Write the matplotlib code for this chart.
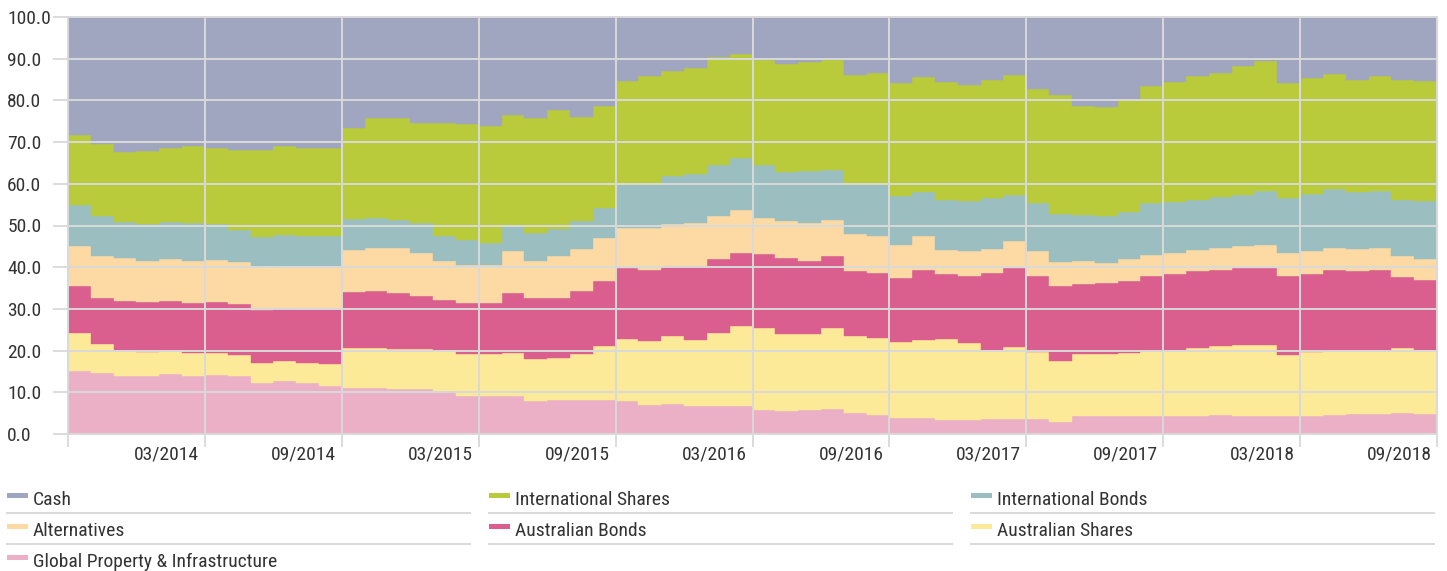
import numpy as np
import matplotlib
matplotlib.use("Agg")
import matplotlib.pyplot as plt
from matplotlib.patches import Rectangle

plt.rcParams['font.family'] = ['Roboto Condensed', 'Archivo Narrow', 'PT Sans Narrow',
                               'IBM Plex Sans Condensed', 'Liberation Sans Narrow', 'DejaVu Sans']

# monthly allocation (%), Oct 2013 .. Sep 2018, stacked bottom -> top
global_property = [15.0, 14.7, 13.8, 14.0, 14.4, 13.9, 14.2, 13.8, 12.2, 12.8, 12.3, 11.6,
                   11.0, 11.0, 10.8, 10.7, 10.2, 9.0, 9.0, 9.0, 7.8, 8.2, 8.1, 8.1,
                   7.8, 7.0, 7.2, 6.6, 6.8, 6.8, 5.8, 5.6, 5.8, 6.0, 5.0, 4.6,
                   3.8, 3.8, 3.4, 3.4, 3.6, 3.6, 3.6, 2.8, 4.2, 4.2, 4.3, 4.3,
                   4.4, 4.4, 4.6, 4.4, 4.4, 4.2, 4.4, 4.6, 4.8, 4.8, 5.0, 4.8]
aus_shares = [9.2, 6.9, 6.2, 5.6, 5.4, 5.5, 5.2, 5.2, 4.8, 4.6, 4.8, 5.1,
              9.6, 9.6, 9.7, 9.8, 10.0, 10.2, 10.1, 10.5, 10.2, 10.0, 11.1, 13.1,
              15.1, 15.4, 16.4, 16.0, 17.4, 19.0, 19.6, 18.4, 18.2, 19.4, 18.6, 18.4,
              18.2, 18.8, 19.4, 18.4, 16.6, 17.2, 16.0, 14.8, 15.0, 15.0, 15.1, 15.7,
              15.8, 16.2, 16.4, 17.0, 17.0, 14.8, 15.2, 15.4, 15.2, 15.2, 15.6, 15.4]
aus_bonds = [11.2, 11.1, 12.0, 12.0, 12.1, 12.0, 12.2, 12.2, 12.8, 12.9, 12.9, 13.3,
             13.5, 13.7, 13.4, 12.5, 12.0, 12.2, 12.2, 14.2, 14.6, 14.5, 15.0, 15.4,
             16.8, 17.0, 16.6, 17.6, 17.8, 17.6, 17.8, 18.2, 17.6, 17.2, 15.6, 15.7,
             15.4, 16.8, 15.6, 16.2, 18.4, 19.0, 18.4, 18.0, 16.8, 17.0, 17.4, 18.0,
             18.2, 18.4, 18.4, 18.4, 18.4, 18.8, 18.8, 19.4, 19.0, 19.4, 17.0, 16.8]
alternatives = [9.7, 9.9, 10.1, 10.0, 10.1, 10.0, 10.2, 10.1, 10.2, 10.0, 10.2, 10.2,
                10.1, 10.3, 10.6, 10.4, 9.2, 9.2, 9.3, 10.1, 9.0, 9.9, 10.2, 10.3,
                9.7, 10.0, 10.2, 10.4, 10.2, 10.2, 8.6, 8.8, 9.0, 8.6, 8.8, 8.9,
                8.0, 8.0, 5.8, 5.8, 5.8, 6.4, 6.0, 5.6, 5.4, 4.9, 5.1, 5.0,
                5.0, 5.2, 5.2, 5.4, 5.6, 5.6, 5.4, 5.2, 5.4, 5.2, 5.0, 5.0]
intl_bonds = [9.7, 9.6, 8.8, 8.8, 8.8, 9.2, 8.6, 7.7, 7.2, 7.5, 7.3, 7.3,
              7.4, 7.2, 6.7, 7.2, 6.1, 6.0, 5.2, 6.0, 6.6, 6.5, 6.6, 7.3,
              10.4, 10.4, 11.4, 11.8, 12.4, 12.6, 12.8, 11.8, 12.4, 12.2, 11.8, 12.0,
              11.6, 10.6, 11.8, 12.0, 12.2, 11.2, 11.4, 11.6, 11.2, 11.1, 11.3, 12.4,
              12.2, 12.0, 12.2, 12.2, 12.8, 13.2, 13.8, 14.2, 13.6, 13.6, 13.6, 13.8]
intl_shares = [16.8, 17.4, 16.7, 17.5, 17.8, 18.4, 18.2, 19.0, 20.9, 21.2, 21.1, 21.1,
               21.8, 24.0, 24.6, 24.1, 27.2, 27.7, 28.1, 26.8, 27.6, 28.6, 25.0, 24.4,
               24.8, 26.0, 25.2, 25.4, 25.8, 25.0, 25.2, 26.0, 26.2, 26.2, 26.4, 27.0,
               27.2, 27.6, 28.4, 27.8, 28.2, 28.6, 27.4, 28.4, 26.1, 26.2, 27.0, 28.0,
               28.8, 29.6, 29.8, 30.8, 31.2, 27.6, 27.8, 27.6, 27.0, 27.6, 28.8, 28.8]
cash = [28.4, 30.4, 32.4, 32.1, 31.4, 31.0, 31.4, 32.0, 31.9, 31.0, 31.4, 31.4,
        26.6, 24.2, 24.2, 25.3, 25.3, 25.7, 26.1, 23.4, 24.2, 22.3, 24.0, 21.4,
        15.4, 14.2, 13.0, 12.2, 9.6, 8.8, 10.2, 11.2, 10.8, 10.4, 13.8, 13.4,
        15.8, 14.4, 15.6, 16.4, 15.2, 14.0, 17.2, 18.8, 21.3, 21.6, 19.8, 16.6,
        15.6, 14.2, 13.4, 11.8, 10.6, 15.8, 14.6, 13.6, 15.0, 14.2, 15.0, 15.4]

names = ['Global Property & Infrastructure', 'Australian Shares', 'Australian Bonds',
         'Alternatives', 'International Bonds', 'International Shares', 'Cash']
colors = ['#ecb0c6', '#fdea98', '#da5f8e', '#fdd9a4', '#9bbfc0', '#b9ca3a', '#a0a6bf']
tick_labels = ['03/2014', '09/2014', '03/2015', '09/2015', '03/2016',
               '09/2016', '03/2017', '09/2017', '03/2018', '09/2018']

series = [global_property, aus_shares, aus_bonds, alternatives, intl_bonds, intl_shares, cash]
data = np.array(series)
n = data.shape[1]
x = np.arange(n + 1)

grid_c = '#d9d9d9'
text_c = '#333333'
fs = 14

fig = plt.figure(figsize=(14.47, 5.71), dpi=100)
ax = fig.add_axes([68 / 1447, 1 - 434 / 571, (1437 - 68) / 1447, (434 - 17) / 571])

bottom = np.zeros(n)
for vals, c in zip(data, colors):
    top = bottom + vals
    lo = np.append(bottom, bottom[-1])
    hi = np.append(top, top[-1])
    ax.fill_between(x, lo, hi, step='post', facecolor=c, edgecolor=c, lw=0.3)
    bottom = top

ax.set_xlim(0, n)
ax.set_ylim(0, 100)
for s in ax.spines.values():
    s.set_visible(False)

ax.set_yticks(np.arange(0, 101, 10))
ax.set_yticklabels(['%.1f' % v for v in np.arange(0, 101, 10)], ha='left')
ax.set_xticks(np.arange(0, n + 1, 6))
ax.set_xticklabels([])
ax.set_xticks(np.arange(6, n + 1, 6) - 1.67, minor=True)
ax.set_xticklabels(tick_labels, minor=True)

ax.tick_params(axis='y', length=10.8, width=1.3, color=grid_c, pad=33, labelsize=fs, labelcolor=text_c)
ax.tick_params(axis='x', which='major', length=9.4, width=1.3, color=grid_c)
ax.tick_params(axis='x', which='minor', length=0, pad=8.5, labelsize=fs, labelcolor=text_c)

ax.grid(True, which='major', color=grid_c, lw=1.4)
ax.set_axisbelow(False)
for gl in ax.get_xgridlines() + ax.get_ygridlines():
    gl.set_clip_on(False)

# legend, drawn in pixel coordinates
lax = fig.add_axes([0, 0, 1, 1], facecolor='none')
lax.set_xlim(0, 1447)
lax.set_ylim(571, 0)
lax.axis('off')
col_x = [7, 489, 971]
for i, (name, c) in enumerate(zip(names[::-1], colors[::-1])):
    row, col = i // 3, i % 3
    x0 = col_x[col]
    y0 = 505 + row * 31
    lax.add_patch(Rectangle((x0, y0 - 12), 21, 5, facecolor=c, edgecolor='none'))
    lax.text(x0 + 26, y0, name, fontsize=fs, color=text_c, va='baseline', ha='left')
    if row < 2:
        lax.plot([x0, x0 + 463], [y0 + 7.5, y0 + 7.5], color=grid_c, lw=1.4)

fig.savefig('out.png', dpi=100)
